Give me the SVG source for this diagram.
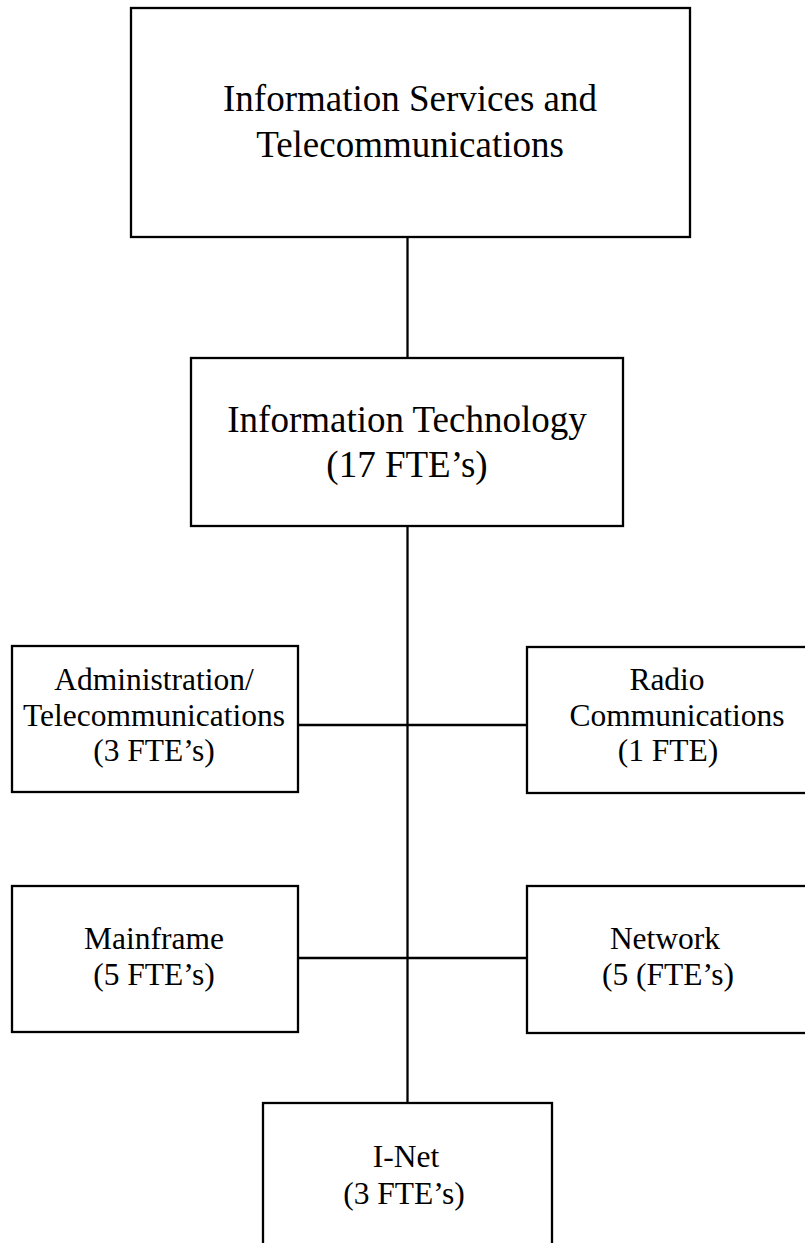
<svg xmlns="http://www.w3.org/2000/svg" width="805" height="1243" viewBox="0 0 805 1243">
<style>
.box{fill:#fff;stroke:#000;stroke-width:2.3}
.ln{stroke:#000;stroke-width:2.3;fill:none}
.t{font-family:"Liberation Serif","Times New Roman",serif;fill:#000;text-anchor:middle}
.big{font-size:37px}
.sm{font-size:31.5px}
</style>
<rect width="805" height="1243" fill="#fff"/>
<g id="connectors">
<line class="ln" x1="407.5" y1="237" x2="407.5" y2="358"/>
<line class="ln" x1="407.5" y1="526" x2="407.5" y2="1103"/>
<line class="ln" x1="298" y1="725" x2="527" y2="725"/>
<line class="ln" x1="298" y1="958" x2="527" y2="958"/>
</g>
<g id="n-ist">
<rect class="box" x="131" y="8" width="559" height="229"/>
<text class="t big" x="410" y="111">Information Services and</text>
<text class="t big" x="410" y="157">Telecommunications</text>
</g>
<g id="n-it">
<rect class="box" x="191" y="358" width="432" height="168"/>
<text class="t big" x="407" y="432">Information Technology</text>
<text class="t big" x="407" y="477">(17 FTE’s)</text>
</g>
<g id="n-admin">
<rect class="box" x="12" y="646" width="286" height="146"/>
<text class="t sm" x="154" y="690">Administration/</text>
<text class="t sm" x="154" y="726">Telecommunications</text>
<text class="t sm" x="154" y="761">(3 FTE’s)</text>
</g>
<g id="n-radio">
<rect class="box" x="527" y="647" width="290" height="146"/>
<text class="t sm" x="667" y="690">Radio</text>
<text class="t sm" x="677" y="726">Communications</text>
<text class="t sm" x="668" y="761">(1 FTE)</text>
</g>
<g id="n-mainframe">
<rect class="box" x="12" y="886" width="286" height="146"/>
<text class="t sm" x="154" y="949">Mainframe</text>
<text class="t sm" x="154" y="985">(5 FTE’s)</text>
</g>
<g id="n-network">
<rect class="box" x="527" y="886" width="290" height="147"/>
<text class="t sm" x="665" y="949">Network</text>
<text class="t sm" x="668" y="985">(5 (FTE’s)</text>
</g>
<g id="n-inet">
<rect class="box" x="263" y="1103" width="289" height="160"/>
<text class="t sm" x="406" y="1167">I-Net</text>
<text class="t sm" x="404" y="1204">(3 FTE’s)</text>
</g>
</svg>
